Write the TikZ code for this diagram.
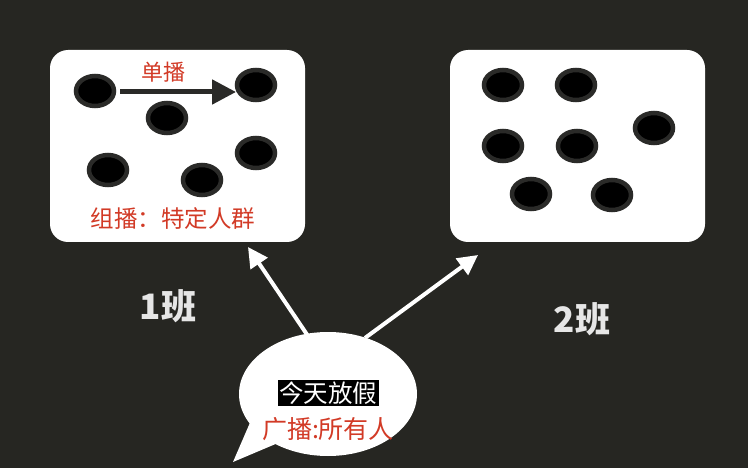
\documentclass[tikz,border=0pt]{standalone}
\usepackage{fontspec}
\newfontfamily\cjk{Noto Sans CJK SC}
\usetikzlibrary{arrows.meta,shapes.geometric}
\definecolor{bg}{HTML}{262622}
\definecolor{dotedge}{HTML}{2A2A28}
\definecolor{redtxt}{HTML}{D23A26}
\definecolor{labelc}{HTML}{E6E6E6}
\begin{document}
\begin{tikzpicture}[x=1pt,y=-1pt,
  panel/.style={fill=white,rounded corners=18pt},
  hole/.style={ellipse,draw=dotedge,line width=4.5pt,fill=black,minimum width=38pt,minimum height=30pt,inner sep=0pt,outer sep=0pt},
  redlabel/.style={text=redtxt,font=\cjk\fontsize{22}{22}\selectfont,inner sep=0pt},
  classlabel/.style={text=labelc,font=\cjk\bfseries\fontsize{35}{35}\selectfont,inner sep=0pt},
  whitearrow/.style={draw=white,line width=4pt,-{Triangle[length=20pt,width=20pt]}}]
\fill[bg] (0,0) rectangle (748,468);
\useasboundingbox (0,0) rectangle (748,468);
% panels
\node[panel,minimum width=255pt,minimum height=192pt,inner sep=0pt] (box1) at (177.5,146) {};
\node[panel,minimum width=255pt,minimum height=192pt,inner sep=0pt] (box2) at (577.5,146) {};
% class 1 dots
\node[hole] (a1) at (95,91) {};
\node[hole] (a2) at (256,85) {};
\node[hole] (a3) at (167,118) {};
\node[hole] (a4) at (108,170) {};
\node[hole] (a5) at (202,180) {};
\node[hole] (a6) at (256,153) {};
\coordinate (u1) at (120,92);
\coordinate (u2) at (236,92);
\draw[draw=dotedge,line width=5pt,-{Triangle[length=24pt,width=24pt]}] (u1) -- (u2);
\node[redlabel] (uni) at (163,72) {单播};
\node[redlabel,font=\cjk\fontsize{23.5}{23.5}\selectfont] (multi) at (173,219) {组播：特定人群};
% class 2 dots
\node[hole] (b1) at (503,85) {};
\node[hole] (b2) at (576,85) {};
\node[hole] (b3) at (654,128) {};
\node[hole] (b4) at (503,146) {};
\node[hole] (b5) at (577,146) {};
\node[hole] (b6) at (531,194) {};
\node[hole] (b7) at (612,195) {};
% class labels
\node[classlabel] (c1) at (168,306) {1班};
\node[classlabel] (c2) at (582,319) {2班};
% speech bubble
\fill[white] (252,418) -- (233,462) -- (285,440) -- cycle;
\node[ellipse,fill=white,minimum width=178pt,minimum height=124pt,inner sep=0pt] (bubble) at (328,394) {};
\node[fill=black,text=white,font=\cjk\fontsize{24.5}{24.5}\selectfont,inner sep=1.5pt] (say) at (328,393) {今天放假};
\node[redlabel,font=\cjk\fontsize{25}{25}\selectfont] (bc) at (328,429) {广播:所有人};
% arrows
\coordinate (t1) at (248,247);
\coordinate (t2) at (478,255);
\coordinate (s1) at (308,336);
\coordinate (s2) at (365,338);
\draw[whitearrow] (s1) -- (t1);
\draw[whitearrow] (s2) -- (t2);
\end{tikzpicture}
\end{document}
